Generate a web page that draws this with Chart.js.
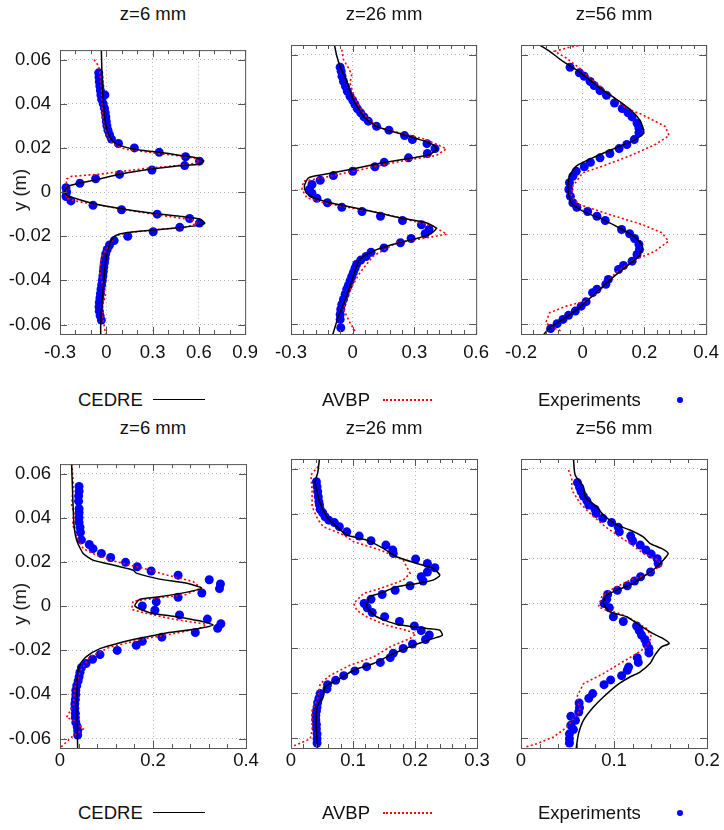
<!DOCTYPE html>
<html>
<head>
<meta charset="utf-8">
<script src="https://cdn.jsdelivr.net/npm/chart.js@4.4.1/dist/chart.umd.min.js"></script>
<style>
  body { margin: 0; background: #fff; width: 724px; height: 830px; position: relative; overflow: hidden;
         font-family: "Liberation Sans", Arial, sans-serif; color: #111; }
  canvas { position: absolute; }
  .txt { position: absolute; font-size: 18.5px; white-space: nowrap; transform: translate(-50%, -50%); }
  .ytitle { position: absolute; font-size: 18.5px; white-space: nowrap; transform: translate(-50%, -50%) rotate(-90deg); }
  .lgl { position: absolute; font-size: 18.5px; white-space: nowrap; transform: translateY(-50%); }
</style>
</head>
<body>
<script>
// names / labels
const titles = ['z=6 mm', 'z=26 mm', 'z=56 mm'];
const seriesNames = ['CEDRE', 'AVBP', 'Experiments'];
const yTitle = 'y (m)';

// tick labels
const yTicks = [-0.06, -0.04, -0.02, 0, 0.02, 0.04, 0.06];
const xTicksTop6 = [-0.3, 0, 0.3, 0.6, 0.9];
const xTicksTop26 = [-0.3, 0, 0.3, 0.6];
const xTicksTop56 = [-0.2, 0, 0.2, 0.4];
const xTicksBot6 = [0, 0.2, 0.4];
const xTicksBot26 = [0, 0.1, 0.2, 0.3];
const xTicksBot56 = [0, 0.1, 0.2];

// top row, z=6 mm  ([value, y])
const top6Cedre = [[-0.032,0.0644],[-0.026,0.049],[-0.011,0.034],[0.011,0.0267],[0.043,0.023],[0.107,0.0207],[0.214,0.019],[0.343,0.018],[0.471,0.0167],[0.579,0.0156],[0.632,0.0141],[0.6,0.0126],[0.471,0.0119],[0.3,0.0104],[0.086,0.0081],[-0.043,0.0059],[-0.171,0.0041],[-0.246,0.0027],[-0.268,0.0007],[-0.257,-0.0015],[-0.193,-0.003],[-0.086,-0.0052],[0.086,-0.0074],[0.3,-0.0096],[0.493,-0.0111],[0.6,-0.0121],[0.639,-0.0141],[0.6,-0.0151],[0.45,-0.0163],[0.214,-0.0178],[0.086,-0.019],[0.043,-0.0207],[0.021,-0.0237],[0,-0.0296],[-0.021,-0.0444],[-0.036,-0.0593],[-0.036,-0.0645]];
const top6Avbp = [[-0.079,0.06],[-0.049,0.057],[-0.032,0.049],[-0.021,0.034],[0,0.0267],[0.043,0.0215],[0.129,0.0193],[0.3,0.0178],[0.45,0.0166],[0.589,0.0151],[0.6,0.0133],[0.471,0.0121],[0.257,0.0107],[-0.043,0.0081],[-0.225,0.0071],[-0.257,0.0059],[-0.261,0],[-0.257,-0.003],[-0.171,-0.0044],[-0.043,-0.0059],[0.129,-0.0081],[0.343,-0.0104],[0.557,-0.0126],[0.589,-0.0141],[0.514,-0.016],[0.321,-0.017],[0.129,-0.0185],[0.054,-0.02],[0.021,-0.0237],[-0.032,-0.0296],[-0.043,-0.0356],[-0.021,-0.043],[-0.004,-0.0474],[-0.032,-0.0519],[-0.021,-0.0578],[-0.004,-0.0645]];
const top6Exp = [[-0.049,0.054],[-0.047,0.052],[-0.045,0.05],[-0.042,0.048],[-0.038,0.046],[-0.009,0.044],[-0.035,0.044],[-0.03,0.042],[-0.02,0.04],[-0.012,0.038],[-0.007,0.036],[-0.003,0.034],[0,0.032],[0.004,0.03],[0.011,0.028],[0.021,0.026],[0.034,0.024],[0.079,0.022],[0.182,0.02],[0.343,0.018],[0.514,0.016],[0.604,0.014],[0.508,0.012],[0.296,0.01],[0.086,0.008],[-0.069,0.006],[-0.171,0.004],[-0.261,0.002],[-0.257,0],[-0.261,-0.002],[-0.229,-0.004],[-0.086,-0.006],[0.099,-0.008],[0.33,-0.01],[0.54,-0.012],[0.604,-0.014],[0.476,-0.016],[0.304,-0.018],[0.139,-0.02],[0.051,-0.022],[0.021,-0.024],[0.006,-0.026],[-0.004,-0.028],[-0.008,-0.03],[-0.012,-0.032],[-0.016,-0.034],[-0.019,-0.036],[-0.022,-0.038],[-0.026,-0.04],[-0.03,-0.042],[-0.034,-0.044],[-0.038,-0.046],[-0.041,-0.048],[-0.045,-0.05],[-0.047,-0.052],[-0.045,-0.054],[-0.04,-0.056],[-0.032,-0.058]];

// top row, z=26 mm
const top26Cedre = [[-0.089,0.0644],[-0.077,0.0593],[-0.061,0.0548],[-0.032,0.0489],[0.003,0.04],[0.052,0.0326],[0.116,0.0281],[0.229,0.0249],[0.326,0.0222],[0.39,0.02],[0.41,0.0181],[0.374,0.0156],[0.294,0.0141],[0.148,0.0119],[-0.013,0.0089],[-0.142,0.0067],[-0.215,0.0052],[-0.235,0.0015],[-0.226,-0.0015],[-0.19,-0.0037],[-0.094,-0.0062],[0.068,-0.0092],[0.229,-0.0126],[0.358,-0.0148],[0.406,-0.0173],[0.374,-0.02],[0.294,-0.0222],[0.197,-0.0244],[0.1,-0.0274],[0.035,-0.0311],[0.003,-0.0385],[-0.029,-0.0474],[-0.069,-0.0563],[-0.097,-0.0645]];
const top26Avbp = [[-0.053,0.0622],[-0.045,0.0578],[-0.021,0.0541],[-0.005,0.0511],[-0.013,0.0474],[0.011,0.04],[0.068,0.0319],[0.132,0.0274],[0.261,0.0244],[0.358,0.0222],[0.455,0.0181],[0.406,0.0151],[0.261,0.013],[0.132,0.0107],[0.003,0.0081],[-0.126,0.0056],[-0.239,0.0037],[-0.247,0],[-0.223,-0.0037],[-0.142,-0.0059],[-0.013,-0.0081],[0.132,-0.0104],[0.261,-0.0133],[0.39,-0.0163],[0.458,-0.0199],[0.358,-0.0215],[0.213,-0.0237],[0.1,-0.0296],[0.035,-0.037],[-0.021,-0.0459],[-0.045,-0.0533],[-0.013,-0.0593],[0.011,-0.063]];
const top26Exp = [[-0.061,0.0544],[-0.056,0.0526],[-0.052,0.0504],[-0.045,0.0481],[-0.035,0.0459],[-0.026,0.0437],[-0.013,0.0415],[0,0.0397],[0.011,0.0378],[0.023,0.0359],[0.039,0.0341],[0.055,0.0323],[0.076,0.0304],[0.116,0.0281],[0.176,0.0264],[0.252,0.024],[0.29,0.0222],[0.361,0.0204],[0.4,0.0182],[0.363,0.016],[0.271,0.0141],[0.153,0.0121],[0.108,0.0101],[0,0.0081],[-0.094,0.0062],[-0.158,0.0041],[-0.198,0.0022],[-0.21,0],[-0.198,-0.0018],[-0.174,-0.0039],[-0.123,-0.0059],[-0.053,-0.0079],[0.045,-0.0098],[0.135,-0.0119],[0.242,-0.0138],[0.334,-0.0157],[0.371,-0.0178],[0.352,-0.0197],[0.284,-0.0218],[0.232,-0.0237],[0.152,-0.026],[0.089,-0.0279],[0.065,-0.0298],[0.039,-0.0314],[0.019,-0.0333],[0.011,-0.0351],[0.003,-0.037],[-0.005,-0.0388],[-0.013,-0.0407],[-0.021,-0.0427],[-0.029,-0.0444],[-0.037,-0.0467],[-0.045,-0.0489],[-0.053,-0.0511],[-0.058,-0.0533],[-0.061,-0.0556],[-0.061,-0.0578],[-0.058,-0.0615]];

// top row, z=56 mm
const top56Cedre = [[-0.141,0.0644],[-0.107,0.0615],[-0.064,0.057],[-0.021,0.0533],[0.021,0.0489],[0.064,0.0444],[0.118,0.0393],[0.16,0.0348],[0.187,0.0304],[0.198,0.0252],[0.171,0.0222],[0.107,0.0185],[0.032,0.0141],[-0.021,0.0104],[-0.043,0.0059],[-0.048,0],[-0.037,-0.0059],[0,-0.0096],[0.064,-0.0133],[0.128,-0.0178],[0.171,-0.0215],[0.193,-0.0252],[0.182,-0.0296],[0.15,-0.0333],[0.096,-0.0393],[0.043,-0.0459],[-0.011,-0.0526],[-0.064,-0.0578],[-0.107,-0.0615],[-0.126,-0.0645]];
const top56Avbp = [[0,0.0644],[-0.043,0.0633],[-0.091,0.0615],[-0.053,0.0585],[-0.011,0.0541],[0.043,0.0474],[0.096,0.0415],[0.139,0.0363],[0.193,0.0333],[0.267,0.0281],[0.28,0.024],[0.235,0.02],[0.15,0.0148],[0.064,0.0104],[0,0.0074],[-0.032,0.0015],[-0.037,-0.003],[-0.011,-0.0067],[0.086,-0.0111],[0.193,-0.0156],[0.257,-0.0193],[0.278,-0.023],[0.235,-0.0274],[0.171,-0.0311],[0.107,-0.037],[0.064,-0.0437],[0.011,-0.0496],[-0.053,-0.0519],[-0.107,-0.0548],[-0.12,-0.0593],[-0.096,-0.0615],[-0.07,-0.063]];
const top56Exp = [[-0.041,0.0544],[-0.011,0.0519],[0.005,0.0504],[0.024,0.0481],[0.037,0.0463],[0.056,0.044],[0.077,0.0419],[0.103,0.0385],[0.128,0.036],[0.147,0.0341],[0.16,0.0323],[0.176,0.0296],[0.182,0.0274],[0.182,0.0252],[0.167,0.0222],[0.143,0.02],[0.118,0.0182],[0.088,0.016],[0.056,0.0141],[0.025,0.0121],[0.005,0.0101],[-0.021,0.0081],[-0.032,0.0059],[-0.043,0.003],[-0.045,0],[-0.04,-0.003],[-0.032,-0.0059],[-0.019,-0.0079],[0.016,-0.0098],[0.046,-0.0119],[0.073,-0.0138],[0.126,-0.0178],[0.152,-0.0197],[0.168,-0.0218],[0.182,-0.0244],[0.184,-0.0267],[0.176,-0.0289],[0.16,-0.0319],[0.132,-0.0338],[0.116,-0.0356],[0.083,-0.04],[0.075,-0.0422],[0.046,-0.0444],[0.032,-0.0459],[0.011,-0.0499],[-0.005,-0.0519],[-0.024,-0.0541],[-0.046,-0.056],[-0.064,-0.0578],[-0.083,-0.0597],[-0.104,-0.0619]];

// bottom row, z=6 mm
const bot6Cedre = [[0.025,0.0645],[0.027,0.052],[0.03,0.0371],[0.036,0.0297],[0.05,0.0238],[0.071,0.0208],[0.1,0.0193],[0.129,0.0178],[0.157,0.0163],[0.164,0.0149],[0.214,0.0122],[0.271,0.0104],[0.304,0.0082],[0.271,0.0062],[0.214,0.0042],[0.171,0.003],[0.161,0],[0.193,-0.003],[0.25,-0.0048],[0.3,-0.0067],[0.329,-0.0086],[0.293,-0.0104],[0.229,-0.0122],[0.171,-0.0146],[0.129,-0.0166],[0.086,-0.0193],[0.056,-0.023],[0.043,-0.0264],[0.037,-0.0327],[0.037,-0.0446],[0.037,-0.0535],[0.038,-0.0645]];
const bot6Avbp = [[0.025,0.0645],[0.029,0.055],[0.025,0.0461],[0.03,0.0416],[0.027,0.0371],[0.036,0.0312],[0.05,0.026],[0.079,0.023],[0.121,0.0201],[0.179,0.0171],[0.229,0.0141],[0.286,0.0111],[0.304,0.0082],[0.271,0.0052],[0.214,0.0037],[0.157,0.0022],[0.154,-0.0015],[0.179,-0.003],[0.243,-0.0059],[0.314,-0.0082],[0.307,-0.0097],[0.243,-0.0126],[0.179,-0.0149],[0.107,-0.0186],[0.064,-0.023],[0.043,-0.0297],[0.032,-0.0371],[0.029,-0.0446],[0.014,-0.0505],[0.032,-0.052],[0.05,-0.0557],[0.025,-0.0594],[0,-0.0643]];
const bot6Exp = [[0.041,0.0542],[0.041,0.052],[0.04,0.0498],[0.04,0.0475],[0.041,0.0441],[0.041,0.0423],[0.041,0.0401],[0.041,0.0379],[0.043,0.0357],[0.044,0.0334],[0.046,0.03],[0.063,0.0279],[0.071,0.026],[0.089,0.0238],[0.109,0.022],[0.141,0.0198],[0.166,0.0178],[0.196,0.0159],[0.254,0.014],[0.321,0.0119],[0.345,0.01],[0.343,0.0079],[0.305,0.0059],[0.254,0.004],[0.207,0.0019],[0.177,0],[0.204,-0.0019],[0.257,-0.004],[0.317,-0.0059],[0.346,-0.008],[0.339,-0.0101],[0.291,-0.012],[0.219,-0.0141],[0.177,-0.016],[0.164,-0.0178],[0.123,-0.0201],[0.086,-0.022],[0.07,-0.0241],[0.056,-0.026],[0.046,-0.0279],[0.043,-0.03],[0.041,-0.032],[0.039,-0.0339],[0.036,-0.0361],[0.034,-0.0382],[0.034,-0.0401],[0.033,-0.0423],[0.032,-0.0443],[0.032,-0.0464],[0.033,-0.0486],[0.033,-0.0505],[0.034,-0.0527],[0.037,-0.0547],[0.038,-0.0565],[0.038,-0.0584]];

// bottom row, z=26 mm
const bot26Cedre = [[0.046,0.0645],[0.043,0.058],[0.039,0.0542],[0.047,0.0446],[0.058,0.0386],[0.071,0.0349],[0.09,0.0305],[0.122,0.0282],[0.149,0.0245],[0.17,0.0208],[0.203,0.0178],[0.229,0.0156],[0.24,0.0126],[0.229,0.0104],[0.203,0.0089],[0.17,0.0074],[0.144,0.0045],[0.127,0.003],[0.122,-0.0015],[0.138,-0.0059],[0.17,-0.0092],[0.219,-0.0111],[0.24,-0.0119],[0.244,-0.0141],[0.229,-0.0156],[0.197,-0.0186],[0.16,-0.023],[0.133,-0.0267],[0.101,-0.0297],[0.079,-0.0334],[0.055,-0.0371],[0.052,-0.0416],[0.047,-0.0431],[0.041,-0.0476],[0.041,-0.0565],[0.043,-0.0645]];
const bot26Avbp = [[0.044,0.061],[0.032,0.0572],[0.034,0.0505],[0.034,0.0431],[0.044,0.0371],[0.052,0.0342],[0.085,0.0305],[0.101,0.0275],[0.144,0.0238],[0.181,0.0193],[0.192,0.0134],[0.181,0.0104],[0.144,0.0067],[0.117,0.0045],[0.101,0],[0.106,-0.003],[0.122,-0.0059],[0.154,-0.0097],[0.186,-0.0119],[0.201,-0.0134],[0.192,-0.0156],[0.16,-0.0193],[0.133,-0.0238],[0.095,-0.0275],[0.063,-0.032],[0.047,-0.0357],[0.044,-0.0416],[0.034,-0.0476],[0.034,-0.0565],[0.031,-0.0602],[0,-0.0639]];
const bot26Exp = [[0.041,0.0542],[0.042,0.052],[0.043,0.0498],[0.044,0.0475],[0.045,0.0453],[0.046,0.0438],[0.047,0.0419],[0.051,0.0404],[0.055,0.0386],[0.061,0.0371],[0.07,0.036],[0.078,0.0342],[0.09,0.0319],[0.11,0.03],[0.129,0.0279],[0.153,0.026],[0.164,0.0238],[0.165,0.0223],[0.201,0.0198],[0.22,0.0178],[0.232,0.0159],[0.22,0.014],[0.21,0.0119],[0.213,0.01],[0.192,0.0079],[0.168,0.0059],[0.147,0.004],[0.129,0.0019],[0.118,0],[0.123,-0.0019],[0.131,-0.004],[0.151,-0.0059],[0.175,-0.008],[0.199,-0.01],[0.21,-0.012],[0.223,-0.014],[0.217,-0.016],[0.196,-0.018],[0.181,-0.02],[0.165,-0.0221],[0.16,-0.0241],[0.144,-0.0262],[0.122,-0.0281],[0.103,-0.03],[0.085,-0.0321],[0.072,-0.0342],[0.059,-0.0361],[0.058,-0.038],[0.047,-0.0401],[0.045,-0.0422],[0.043,-0.0441],[0.042,-0.0461],[0.041,-0.0478],[0.04,-0.0498],[0.04,-0.0517],[0.041,-0.0538],[0.041,-0.0557],[0.042,-0.058],[0.042,-0.0602],[0.042,-0.0621]];

// bottom row, z=56 mm
const bot56Cedre = [[0.0564,0.0645],[0.0582,0.0572],[0.0671,0.052],[0.0689,0.0475],[0.0814,0.0431],[0.0886,0.0394],[0.1029,0.035],[0.1171,0.0327],[0.1314,0.0297],[0.1386,0.0268],[0.1511,0.0245],[0.1582,0.0223],[0.1529,0.0193],[0.1421,0.0149],[0.1314,0.0119],[0.1207,0.0089],[0.1029,0.0059],[0.0921,0.0037],[0.0886,0],[0.0957,-0.0037],[0.1136,-0.0059],[0.1279,-0.0097],[0.1421,-0.0134],[0.1529,-0.0156],[0.1593,-0.0178],[0.1511,-0.0193],[0.1439,-0.023],[0.1386,-0.0267],[0.1279,-0.0305],[0.1171,-0.0327],[0.1029,-0.0364],[0.0886,-0.0416],[0.0779,-0.0461],[0.0671,-0.052],[0.0618,-0.058],[0.0593,-0.0645]];
const bot56Avbp = [[0.0511,0.0594],[0.0546,0.0557],[0.0546,0.0505],[0.0636,0.0446],[0.0743,0.0401],[0.0886,0.0349],[0.1029,0.0305],[0.1171,0.0268],[0.1314,0.0223],[0.1475,0.0193],[0.1511,0.0171],[0.1386,0.0134],[0.1171,0.0104],[0.0993,0.0067],[0.0868,0.003],[0.0832,-0.0015],[0.0921,-0.003],[0.1064,-0.0045],[0.1171,-0.0067],[0.135,-0.0111],[0.1404,-0.0149],[0.135,-0.0193],[0.1243,-0.0223],[0.1064,-0.0267],[0.0886,-0.0312],[0.0671,-0.0357],[0.06,-0.0416],[0.0636,-0.0475],[0.0493,-0.055],[0.035,-0.0594],[0.0171,-0.0624],[0.0046,-0.0639]];
const bot56Exp = [[0.0607,0.0538],[0.0629,0.0517],[0.0646,0.0498],[0.0671,0.0478],[0.0707,0.0458],[0.0729,0.0438],[0.0796,0.0419],[0.0807,0.0401],[0.0879,0.0379],[0.0975,0.036],[0.1046,0.0339],[0.1057,0.0319],[0.1179,0.03],[0.12,0.0279],[0.1282,0.026],[0.1343,0.0238],[0.14,0.022],[0.1464,0.0199],[0.1475,0.0178],[0.1393,0.014],[0.1286,0.0119],[0.1221,0.01],[0.1143,0.0079],[0.1036,0.0059],[0.0932,0.004],[0.0921,0.0019],[0.0893,0],[0.095,-0.0019],[0.0993,-0.0059],[0.11,-0.008],[0.1243,-0.01],[0.1271,-0.012],[0.1296,-0.014],[0.1332,-0.016],[0.135,-0.018],[0.1375,-0.02],[0.1375,-0.022],[0.125,-0.0241],[0.1261,-0.0262],[0.1157,-0.0283],[0.1143,-0.0297],[0.1082,-0.0321],[0.0964,-0.034],[0.0893,-0.0361],[0.0771,-0.0401],[0.0729,-0.0422],[0.0625,-0.0443],[0.0629,-0.0464],[0.0621,-0.0483],[0.0536,-0.0502],[0.0586,-0.052],[0.0536,-0.0542],[0.0564,-0.0561],[0.0521,-0.058],[0.0521,-0.0602],[0.0521,-0.0621]];

// panel boxes (plot area)
const plotW = 186, plotH = 289;
const padL = 60, padR = 20, padT = 15, padB = 40;
const yLim = 0.0643;

const panels = [
  { left: 60,  top: 45,  xTicks: xTicksTop6,  minor: 0.1,  data: [top6Cedre, top6Avbp, top6Exp],   yLabels: true,  lblPad: 8 },
  { left: 291, top: 45,  xTicks: xTicksTop26, minor: 0.06, data: [top26Cedre, top26Avbp, top26Exp], yLabels: false, lblPad: 8 },
  { left: 521, top: 45,  xTicks: xTicksTop56, minor: 0.04, data: [top56Cedre, top56Avbp, top56Exp], yLabels: false, lblPad: 8 },
  { left: 60,  top: 459, xTicks: xTicksBot6,  minor: 0.04, data: [bot6Cedre, bot6Avbp, bot6Exp],    yLabels: true,  lblPad: 2 },
  { left: 291, top: 459, xTicks: xTicksBot26, minor: 0.02, data: [bot26Cedre, bot26Avbp, bot26Exp], yLabels: false, lblPad: 2 },
  { left: 521, top: 459, xTicks: xTicksBot56, minor: 0.02, data: [bot56Cedre, bot56Avbp, bot56Exp], yLabels: false, lblPad: 2 }
];

const fmt = v => String(parseFloat(Number(v).toFixed(3)));
const toXY = arr => arr.map(p => ({ x: p[0], y: p[1] }));

// gnuplot-like frame with inward ticks on all four sides
const frameTicks = {
  id: 'frameTicks',
  afterDatasetsDraw(chart, args, o) {
    const { ctx, chartArea: a, scales: { x, y } } = chart;
    ctx.save();
    ctx.strokeStyle = '#555';
    ctx.lineWidth = 1;
    ctx.beginPath();
    const n = Math.round((o.max - o.min) / o.minor);
    const per = Math.round(o.major / o.minor);
    for (let i = 0; i <= n; i++) {
      const px = Math.round(x.getPixelForValue(o.min + i * o.minor)) + 0.5;
      const len = i % per === 0 ? 7 : 4;
      ctx.moveTo(px, a.bottom); ctx.lineTo(px, a.bottom - len);
      ctx.moveTo(px, a.top); ctx.lineTo(px, a.top + len);
    }
    y.ticks.forEach(t => {
      const py = Math.round(y.getPixelForValue(t.value)) + 0.5;
      ctx.moveTo(a.left, py); ctx.lineTo(a.left + 7, py);
      ctx.moveTo(a.right, py); ctx.lineTo(a.right - 7, py);
    });
    ctx.stroke();
    ctx.strokeRect(a.left + 0.5, a.top + 0.5, a.width, a.height);
    ctx.restore();
  }
};

const tickFont = { family: 'Liberation Sans, Arial, sans-serif', size: 18.5 };

panels.forEach((p, i) => {
  const c = document.createElement('canvas');
  c.width = plotW + padL + padR;
  c.height = plotH + padT + padB;
  c.style.left = (p.left - padL) + 'px';
  c.style.top = (p.top - padT) + 'px';
  document.body.appendChild(c);

  const xMin = p.xTicks[0], xMax = p.xTicks[p.xTicks.length - 1];
  const major = p.xTicks[1] - p.xTicks[0];

  new Chart(c, {
    type: 'scatter',
    data: {
      datasets: [
        { label: seriesNames[0], data: toXY(p.data[0]), showLine: true, borderColor: '#000', borderWidth: 1.5,
          pointRadius: 0, tension: 0.2, order: 1 },
        { label: seriesNames[1], data: toXY(p.data[1]), showLine: true, borderColor: '#ff0000', borderWidth: 1.6,
          borderDash: [2, 2.5], pointRadius: 0, order: 2 },
        { label: seriesNames[2], data: toXY(p.data[2]), showLine: false, pointRadius: 4.5,
          pointBackgroundColor: '#0000ff', pointBorderWidth: 0, order: 3 }
      ]
    },
    options: {
      responsive: false,
      animation: false,
      layout: { padding: { top: padT, right: padR, left: 0, bottom: 0 } },
      plugins: {
        legend: { display: false },
        tooltip: { enabled: false },
        frameTicks: { min: xMin, max: xMax, major: major, minor: p.minor }
      },
      scales: {
        x: {
          type: 'linear', min: xMin, max: xMax,
          afterBuildTicks: s => { s.ticks = p.xTicks.map(v => ({ value: v })); },
          afterFit: s => { s.height = padB; },
          grid: { color: '#b4b4b4', lineWidth: 1, drawTicks: false },
          border: { display: false, dash: [1, 3] },
          ticks: { font: tickFont, color: '#111', padding: p.lblPad, maxRotation: 0, callback: v => fmt(v) }
        },
        y: {
          type: 'linear', min: -yLim, max: yLim,
          afterBuildTicks: s => { s.ticks = yTicks.map(v => ({ value: v })); },
          afterFit: s => { s.width = padL; },
          grid: { color: '#b4b4b4', lineWidth: 1, drawTicks: false },
          border: { display: false, dash: [1, 3] },
          ticks: { display: p.yLabels, font: tickFont, color: '#111', padding: 9, callback: v => fmt(v) }
        }
      }
    },
    plugins: [frameTicks]
  });

  // panel title
  const t = document.createElement('div');
  t.className = 'txt';
  t.textContent = titles[i % 3];
  t.style.left = (p.left + plotW / 2) + 'px';
  t.style.top = (p.top - 31) + 'px';
  document.body.appendChild(t);

  if (p.yLabels) {
    const yt = document.createElement('div');
    yt.className = 'ytitle';
    yt.textContent = yTitle;
    yt.style.left = '20px';
    yt.style.top = (p.top + plotH / 2) + 'px';
    document.body.appendChild(yt);
  }
});

// legend rows under each row of panels
[400, 813].forEach(yc => {
  const items = [
    { text: seriesNames[0], tx: 78, sx: 153, kind: 'line' },
    { text: seriesNames[1], tx: 322, sx: 383, kind: 'dash' },
    { text: seriesNames[2], tx: 538, sx: 677, kind: 'dot' }
  ];
  items.forEach(it => {
    const l = document.createElement('div');
    l.className = 'lgl';
    l.textContent = it.text;
    l.style.left = it.tx + 'px';
    l.style.top = yc + 'px';
    document.body.appendChild(l);
    const s = document.createElement('div');
    s.style.position = 'absolute';
    if (it.kind === 'line') {
      s.style.cssText += `left:${it.sx}px;top:${yc - 1}px;width:52px;height:0;border-top:1.5px solid #000;`;
    } else if (it.kind === 'dash') {
      s.style.cssText += `left:${it.sx}px;top:${yc - 1}px;width:49px;height:0;border-top:2px dotted #f00;`;
    } else {
      s.style.cssText += `left:${it.sx}px;top:${yc - 3}px;width:6px;height:6px;border-radius:50%;background:#0000ff;`;
    }
    document.body.appendChild(s);
  });
});
</script>
</body>
</html>
